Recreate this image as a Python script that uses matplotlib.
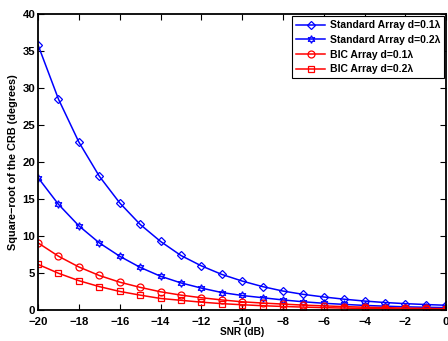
import numpy as np
import matplotlib.pyplot as plt

plt.rcParams['font.family'] = ['Liberation Sans', 'DejaVu Sans']

snr = list(range(-20, 1))
std_01 = [35.8, 28.5, 22.7, 18.1, 14.5, 11.6, 9.3, 7.4, 6.0, 4.85, 3.95,
          3.2, 2.6, 2.15, 1.8, 1.5, 1.25, 1.05, 0.9, 0.78, 0.68]
std_02 = [17.9, 14.3, 11.4, 9.1, 7.3, 5.8, 4.6, 3.7, 3.0, 2.4, 2.0,
          1.7, 1.4, 1.15, 0.95, 0.8, 0.66, 0.56, 0.47, 0.41, 0.36]
bic_01 = [9.1, 7.3, 5.85, 4.7, 3.8, 3.1, 2.5, 2.05, 1.7, 1.4, 1.15,
          0.98, 0.84, 0.7, 0.6, 0.5, 0.42, 0.36, 0.3, 0.26, 0.22]
bic_02 = [6.2, 5.0, 4.0, 3.2, 2.55, 2.05, 1.6, 1.35, 1.1, 0.9, 0.75,
          0.62, 0.52, 0.43, 0.36, 0.3, 0.25, 0.21, 0.18, 0.16, 0.14]
labels = ['Standard Array d=0.1λ', 'Standard Array d=0.2λ',
          'BIC Array d=0.1λ', 'BIC Array d=0.2λ']

fig = plt.figure(figsize=(4.48, 3.41), dpi=100)
ax = fig.add_axes([0.085, 0.09, 0.911, 0.869])

common = dict(lw=1.1, mew=0.9, markerfacecolor='none')
ax.plot(snr, std_01, color='#0000ff', marker='D', ms=4.5, label=labels[0], **common)
ax.plot(snr, std_02, color='#0000ff', marker=(6, 1, 0), ms=5.5, label=labels[1], **common)
ax.plot(snr, bic_01, color='#ff0000', marker='o', ms=5, label=labels[2], **common)
ax.plot(snr, bic_02, color='#ff0000', marker='s', ms=4.5, label=labels[3], **common)

ax.set_xlim(-20, 0)
ax.set_ylim(0, 40)
ax.set_xticks(range(-20, 1, 2))
ax.set_yticks(range(0, 41, 5))
ax.set_xticklabels([str(t).replace('-', '\u2212') for t in range(-20, 1, 2)])
ax.tick_params(direction='in', top=True, right=True, length=4, width=0.8,
               labelsize=8.2)
ax.tick_params(axis='x', pad=5)
ax.tick_params(axis='y', pad=2)
for lab in ax.get_xticklabels() + ax.get_yticklabels():
    lab.set_fontweight('bold')
for s in ax.spines.values():
    s.set_linewidth(1.3)

ax.set_xlabel('SNR (dB)', fontsize=7.3, fontweight='bold', labelpad=0)
ax.set_ylabel('Square\u2212root of the CRB (degrees)', fontsize=7.8,
              fontweight='bold', labelpad=3)

leg = ax.legend(loc='upper right', prop={'weight': 'bold', 'size': 7.5},
                frameon=True, fancybox=False, borderaxespad=0.2,
                handlelength=2.8, borderpad=0.4, labelspacing=0.45,
                handletextpad=0.4)
leg.get_frame().set_edgecolor('black')
leg.get_frame().set_linewidth(0.8)
leg.get_frame().set_alpha(1)

fig.savefig('out.png', dpi=100)
